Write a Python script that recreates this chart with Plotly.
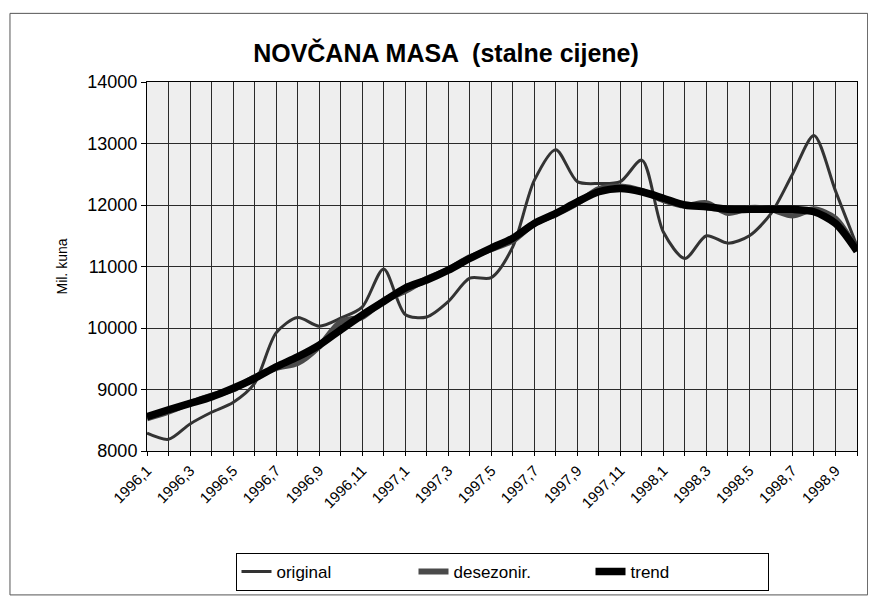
import plotly.graph_objects as go

# Monthly labels 1996,1 ... 1998,10
months = [f"{y},{m}" for y, last in ((1996, 12), (1997, 12), (1998, 10)) for m in range(1, last + 1)]

original = [8290, 8190, 8440, 8630, 8790, 9100, 9920, 10170, 10030, 10160,
            10340, 10960, 10220, 10180, 10430, 10810, 10820, 11320, 12400, 12900,
            12380, 12350, 12380, 12730, 11560, 11130, 11500, 11380, 11500, 11860,
            12500, 13130, 12230, 11330]

desezonir = [8530, 8640, 8780, 8900, 9000, 9200, 9350, 9430, 9700, 10100,
             10180, 10450, 10600, 10800, 10950, 11150, 11280, 11420, 11700, 11850,
             12030, 12260, 12300, 12230, 12080, 11990, 12030, 11870, 11950, 11930,
             11830, 11930, 11780, 11250]

trend = [8560, 8670, 8775, 8880, 9020, 9180, 9370, 9530, 9720, 9970,
         10210, 10430, 10650, 10780, 10940, 11130, 11300, 11460, 11700, 11865,
         12050, 12215, 12270, 12215, 12110, 12000, 11970, 11930, 11930, 11930,
         11930, 11890, 11700, 11250]

y_ticks = [8000, 9000, 10000, 11000, 12000, 13000, 14000]

idx = list(range(len(months)))
tick_text = [m if i % 2 == 0 else "" for i, m in enumerate(months)]

fig = go.Figure()
fig.add_trace(go.Scatter(x=idx, y=original, name="original", mode="lines",
                         line=dict(color="#333333", width=3, shape="spline", smoothing=0.8)))
fig.add_trace(go.Scatter(x=idx, y=desezonir, name="desezonir.", mode="lines",
                         line=dict(color="#4a4a4a", width=6, shape="spline", smoothing=0.8)))
fig.add_trace(go.Scatter(x=idx, y=trend, name="trend", mode="lines",
                         line=dict(color="#000000", width=7.5, shape="spline", smoothing=0.8)))

# page has an 8px body margin, so the margins are reduced by 8px on left/top
fig.update_layout(
    width=876, height=600,
    margin=dict(l=139, r=27, t=74, b=157),
    paper_bgcolor="white",
    plot_bgcolor="#eeeeee",
    font=dict(family="Liberation Sans, Arial", color="black", size=13),
    title=dict(text="<b>NOVČANA MASA  (stalne cijene)</b>", x=0.5, xanchor="center",
               y=0.925, yanchor="middle", font=dict(size=25)),
    xaxis=dict(range=[0, len(months) - 1], tickmode="array", tickvals=idx, ticktext=tick_text,
               tickangle=-45, showgrid=True, gridcolor="#2a2a2a", gridwidth=1,
               showline=True, linecolor="black", linewidth=1, mirror=True,
               ticks="outside", ticklen=4, tickcolor="black", tickfont=dict(size=15),
               zeroline=False),
    yaxis=dict(range=[8000, 14000], tickmode="array", tickvals=y_ticks,
               ticktext=[str(v) for v in y_ticks], showgrid=True, gridcolor="#2a2a2a",
               gridwidth=1, showline=True, linecolor="black", linewidth=1, mirror=True,
               ticks="outside", ticklen=5, tickcolor="black", tickfont=dict(size=18),
               title=dict(text="Mil. kuna", font=dict(size=14), standoff=16), zeroline=False),
    legend=dict(orientation="h", x=0.5, xanchor="center", y=-0.276, yanchor="top",
                bordercolor="black", borderwidth=1, bgcolor="white",
                entrywidth=132, font=dict(size=17), traceorder="normal"),
    showlegend=True,
)

# outer frame around the whole chart
fig.add_shape(type="rect", xref="paper", yref="paper",
              x0=-0.193, x1=1.015, y0=-0.39, y1=1.186,
              line=dict(color="#555555", width=1), layer="below")

fig.write_html("out.html")
